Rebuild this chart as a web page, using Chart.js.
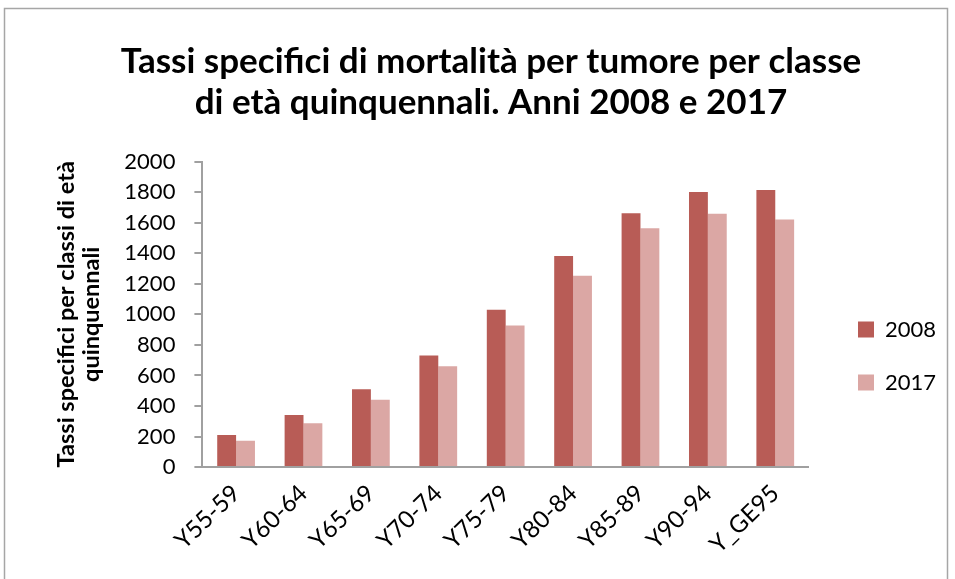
<!DOCTYPE html>
<html>
<head>
<meta charset="utf-8">
<script src="https://cdn.jsdelivr.net/npm/chart.js"></script>
<style>
  html, body { margin: 0; padding: 0; background: #fff; }
  #wrap { width: 955px; height: 579px; position: relative; }
</style>
</head>
<body>
<div id="wrap"><canvas id="chart"></canvas></div>
<script>
const labels = ["Y55-59", "Y60-64", "Y65-69", "Y70-74", "Y75-79", "Y80-84", "Y85-89", "Y90-94", "Y_GE95"];
const values2008 = [210, 341, 510, 730, 1030, 1382, 1662, 1800, 1813];
const values2017 = [173, 287, 440, 660, 927, 1253, 1563, 1658, 1620];
const yTicks = [0, 200, 400, 600, 800, 1000, 1200, 1400, 1600, 1800, 2000];

const fontFamily = "Lato, 'Open Sans', sans-serif";
const legendPad = 31;

// grey frame around the whole chart
const framePlugin = {
  id: "frame",
  beforeDraw(chart) {
    const ctx = chart.ctx;
    ctx.save();
    ctx.fillStyle = "#fff";
    ctx.fillRect(0, 0, chart.width, chart.height);
    ctx.strokeStyle = "#a6a6a6";
    ctx.lineWidth = 1.5;
    ctx.strokeRect(4.5, 8.5, 943, 600);
    ctx.restore();
  },
};

// move the legend a bit further from the plot and lower, like the original
const legendShift = {
  id: "legendShift",
  afterLayout(chart) {
    const lg = chart.legend;
    if (!lg) return;
    const dx = 858 - (lg.left + legendPad);
    const dy = 356 - (lg.top + lg.bottom) / 2;
    lg.left += dx;
    lg.right += dx;
    lg.top += dy;
    lg.bottom += dy;
  },
};

new Chart(document.getElementById("chart"), {
  type: "bar",
  data: {
    labels: labels,
    datasets: [
      {
        label: "2008",
        data: values2008,
        backgroundColor: "#b85c56",
        categoryPercentage: 0.56,
        barPercentage: 1,
      },
      {
        label: "2017",
        data: values2017,
        backgroundColor: "#dba7a4",
        categoryPercentage: 0.56,
        barPercentage: 1,
      },
    ],
  },
  options: {
    responsive: true,
    maintainAspectRatio: false,
    animation: false,
    layout: { padding: { top: 42, right: 27, bottom: 8, left: 54 } },
    plugins: {
      title: {
        display: true,
        text: [
          "Tassi specifici di mortalità per tumore per classe",
          "di età quinquennali. Anni 2008 e 2017",
        ],
        color: "#000",
        font: { family: fontFamily, size: 35, weight: "bold", lineHeight: 1.15 },
        padding: { top: 0, bottom: 39 },
      },
      legend: {
        position: "right",
        labels: {
          color: "#000",
          font: { family: fontFamily, size: 22 },
          boxWidth: 16,
          boxHeight: 16,
          padding: legendPad,
        },
      },
      tooltip: { enabled: false },
    },
    scales: {
      x: {
        grid: { display: false, drawTicks: false },
        border: { color: "#a0a0a0", width: 2 },
        ticks: {
          color: "#000",
          font: { family: fontFamily, size: 24 },
          maxRotation: 44,
          minRotation: 44,
          padding: 12,
        },
      },
      y: {
        min: 0,
        max: 2000,
        afterBuildTicks(axis) {
          axis.ticks = yTicks.map((v) => ({ value: v }));
        },
        grid: { display: true, drawOnChartArea: false, drawTicks: true, tickLength: 8, color: "#a0a0a0", lineWidth: 2 },
        border: { color: "#a0a0a0", width: 2 },
        ticks: {
          color: "#000",
          font: { family: fontFamily, size: 22 },
          padding: 19,
          callback: (v) => String(v),
        },
        title: {
          display: true,
          text: ["Tassi specifici per classi di età", "quinquennali"],
          color: "#000",
          font: { family: fontFamily, size: 23.5, weight: "bold", lineHeight: 1.05 },
          padding: { top: 0, bottom: 2 },
        },
      },
    },
  },
  plugins: [framePlugin, legendShift],
});
</script>
</body>
</html>
